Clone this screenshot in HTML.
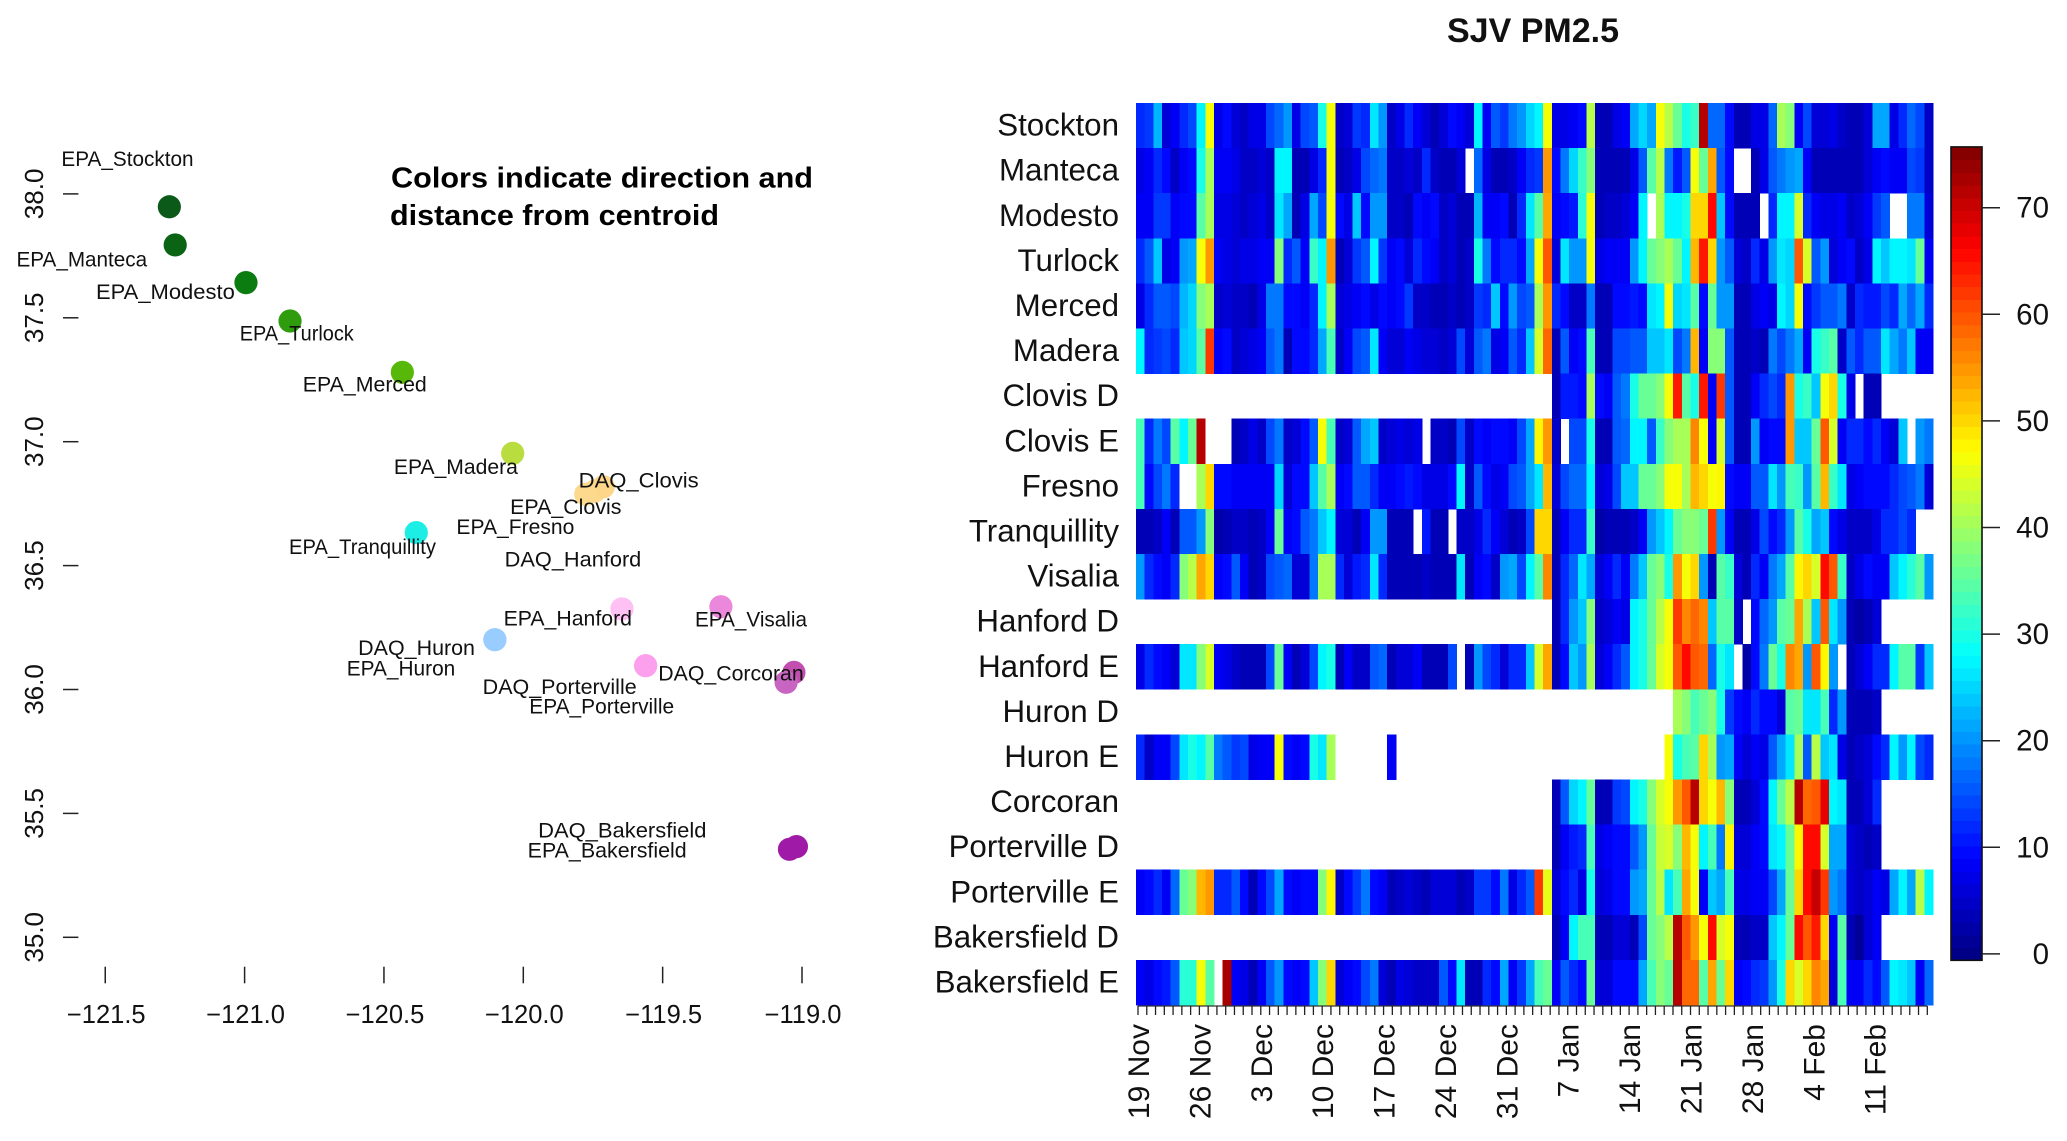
<!DOCTYPE html>
<html>
<head>
<meta charset="utf-8">
<title>SJV PM2.5</title>
<style>
html,body{margin:0;padding:0;background:#fff;}
svg{display:block;font-family:"Liberation Sans",Arial,sans-serif;fill:#111;}
.site{font-size:21px;}
.note{font-size:29px;font-weight:bold;fill:#000;}
</style>
</head>
<body>
<svg id="chart" xmlns="http://www.w3.org/2000/svg" width="2067" height="1141" viewBox="0 0 2067 1141">
<rect x="0" y="0" width="2067" height="1141" fill="#fff"/>
<g id="map-axes"></g>
<g id="map-dots"></g>
<g>
<text class="site" x="61.4" y="166" textLength="132.2" lengthAdjust="spacingAndGlyphs">EPA_Stockton</text>
<text class="site" x="16.5" y="266.7" textLength="130.6" lengthAdjust="spacingAndGlyphs">EPA_Manteca</text>
<text class="site" x="96" y="299" textLength="138.8" lengthAdjust="spacingAndGlyphs">EPA_Modesto</text>
<text class="site" x="239.7" y="340.7" textLength="114.1" lengthAdjust="spacingAndGlyphs">EPA_Turlock</text>
<text class="site" x="302.8" y="391.7" textLength="124" lengthAdjust="spacingAndGlyphs">EPA_Merced</text>
<text class="site" x="393.9" y="474" textLength="124" lengthAdjust="spacingAndGlyphs">EPA_Madera</text>
<text class="site" x="578.7" y="487.7" textLength="120" lengthAdjust="spacingAndGlyphs">DAQ_Clovis</text>
<text class="site" x="510.1" y="514" textLength="111.4" lengthAdjust="spacingAndGlyphs">EPA_Clovis</text>
<text class="site" x="456.4" y="534" textLength="118" lengthAdjust="spacingAndGlyphs">EPA_Fresno</text>
<text class="site" x="289" y="554" textLength="147" lengthAdjust="spacingAndGlyphs">EPA_Tranquillity</text>
<text class="site" x="504.7" y="566.7" textLength="136.6" lengthAdjust="spacingAndGlyphs">DAQ_Hanford</text>
<text class="site" x="503.6" y="625.3" textLength="128.4" lengthAdjust="spacingAndGlyphs">EPA_Hanford</text>
<text class="site" x="695" y="626.7" textLength="112" lengthAdjust="spacingAndGlyphs">EPA_Visalia</text>
<text class="site" x="358.2" y="655" textLength="116.8" lengthAdjust="spacingAndGlyphs">DAQ_Huron</text>
<text class="site" x="346.7" y="675.7" textLength="108.6" lengthAdjust="spacingAndGlyphs">EPA_Huron</text>
<text class="site" x="658.3" y="680.7" textLength="145.4" lengthAdjust="spacingAndGlyphs">DAQ_Corcoran</text>
<text class="site" x="482.7" y="694" textLength="154" lengthAdjust="spacingAndGlyphs">DAQ_Porterville</text>
<text class="site" x="529.3" y="713.3" textLength="144.8" lengthAdjust="spacingAndGlyphs">EPA_Porterville</text>
<text class="site" x="538.1" y="837.7" textLength="168.4" lengthAdjust="spacingAndGlyphs">DAQ_Bakersfield</text>
<text class="site" x="527.7" y="857.7" textLength="159" lengthAdjust="spacingAndGlyphs">EPA_Bakersfield</text>
</g>
<text class="note" x="391" y="187.3" textLength="422" lengthAdjust="spacingAndGlyphs">Colors indicate direction and</text>
<text class="note" x="390" y="225" textLength="329" lengthAdjust="spacingAndGlyphs">distance from centroid</text>
<text x="1533" y="42" text-anchor="middle" font-size="34" font-weight="bold" fill="#111">SJV PM2.5</text>
<g id="heat-cells" shape-rendering="crispEdges"></g>
<g id="heat-rows"></g>
<g id="heat-axis"></g>
<g id="colorbar"></g>
</svg>
<script>
// ---- Map data ----
const siteNames = ["EPA_Stockton","EPA_Manteca","EPA_Modesto","EPA_Turlock","EPA_Merced","EPA_Madera","EPA_Fresno","DAQ_Clovis","EPA_Clovis","EPA_Tranquillity","DAQ_Hanford","EPA_Hanford","EPA_Visalia","DAQ_Huron","EPA_Huron","DAQ_Porterville","EPA_Porterville","DAQ_Corcoran","EPA_Corcoran","DAQ_Bakersfield","EPA_Bakersfield"];
const siteLon = [-121.27,-121.249,-120.995,-120.837,-120.434,-120.038,-119.745,-119.713,-119.776,-120.384,-119.646,-119.646,-119.291,-120.102,-120.102,-119.561,-119.561,-119.029,-119.057,-119.02,-119.045];
const siteLat = [37.948,37.794,37.642,37.487,37.28,36.953,36.8,36.818,36.788,36.633,36.325,36.325,36.334,36.201,36.201,36.096,36.096,36.069,36.029,35.366,35.355];
const lonTicks = [-121.5,-121,-120.5,-120,-119.5,-119];
const latTicks = [35,35.5,36,36.5,37,37.5,38];
// ---- Heatmap data ----
const rowNames = ["Stockton","Manteca","Modesto","Turlock","Merced","Madera","Clovis D","Clovis E","Fresno","Tranquillity","Visalia","Hanford D","Hanford E","Huron D","Huron E","Corcoran","Porterville D","Porterville E","Bakersfield D","Bakersfield E"];
function missing(n){ return new Array(n).fill(null); }
const stockton = [12,13,23,6,8,12,14,27,47,7,10,6,5,7,7,14,17,20,7,14,15,30,46,5,6,13,12,26,20,5,7,12,8,6,4,6,9,8,6,27,8,15,13,18,20,25,27,46,7,7,8,9,42,4,4,7,8,22,25,22,46,42,36,30,32,72,17,17,9,3,4,7,7,17,41,38,8,14,6,6,7,5,4,4,6,21,22,7,12,17,14,5];
const manteca = [7,8,12,9,5,8,10,30,41,8,8,7,5,5,6,5,27,27,4,4,7,12,46,3,5,7,14,17,18,5,5,6,5,12,5,3,3,6,null,17,7,3,3,5,8,12,13,55,9,18,25,32,38,3,3,3,3,7,15,34,42,18,11,15,46,36,54,16,10,null,null,3,7,16,18,20,22,8,3,3,3,4,4,3,6,8,10,8,8,14,13,5];
const modesto = [8,8,13,13,8,9,9,34,40,7,7,6,5,6,7,5,26,22,3,7,22,14,46,10,7,24,10,20,20,5,5,4,10,8,9,5,6,4,4,23,8,8,10,4,12,26,34,54,8,10,11,31,46,4,5,5,6,8,27,null,41,27,27,30,50,50,65,24,10,4,4,3,null,12,27,27,44,12,8,7,7,8,5,6,8,13,16,null,null,18,18,6];
const turlock = [12,15,24,7,8,20,21,46,55,8,7,6,7,7,8,8,38,12,15,8,32,28,55,3,6,13,15,27,13,8,10,6,12,10,8,5,6,4,5,30,18,9,12,12,10,22,46,60,6,26,20,20,46,7,8,8,8,20,27,36,38,40,36,27,52,64,50,20,15,6,5,12,7,20,26,25,60,44,16,20,6,8,9,5,7,27,24,27,27,26,36,8];
const merced = [7,12,15,15,14,23,25,38,41,5,6,5,5,3,7,18,18,10,9,8,12,27,40,6,7,8,10,7,9,8,10,13,5,5,3,4,5,4,5,13,12,24,10,20,14,16,40,55,12,9,5,5,18,4,4,9,10,11,9,26,27,46,25,26,34,9,36,20,20,4,3,7,8,7,27,25,46,10,13,15,15,18,5,12,11,11,14,12,22,17,22,12];
const madera = [27,12,13,14,12,24,25,34,62,8,10,5,6,7,8,16,18,4,9,9,12,22,33,5,8,14,15,26,8,6,6,8,7,6,6,5,6,14,6,15,18,7,8,16,12,24,44,58,4,16,8,10,33,3,3,14,14,15,16,24,24,26,14,18,52,8,38,38,15,3,3,5,3,18,14,18,22,8,30,32,34,5,16,12,15,16,26,22,18,24,8,8];
const clovisD = [...missing(48),3,11,11,9,41,9,8,16,18,30,36,36,38,46,64,34,30,64,8,62,16,4,3,8,12,14,12,55,30,32,24,46,50,30,7,null,3,3,...missing(6)];
const clovisE = [33,12,18,14,34,27,36,71,null,null,null,4,5,7,5,14,18,5,6,9,15,46,33,5,6,15,22,24,5,6,7,6,7,null,5,5,3,14,5,9,8,10,9,8,14,22,48,55,5,null,14,14,30,3,3,15,17,27,27,15,32,38,40,40,56,46,8,44,16,4,3,20,8,9,9,55,24,24,36,60,44,8,12,12,10,12,8,6,24,null,20,18];
const fresno = [33,9,14,18,12,null,null,41,50,10,10,8,8,8,8,8,25,6,9,9,24,34,40,8,10,15,16,12,8,8,9,11,9,7,7,7,9,27,5,16,9,7,8,14,16,22,26,52,6,14,17,17,28,6,7,14,24,24,36,36,38,46,46,40,52,50,46,48,10,8,8,16,16,26,20,33,32,20,34,52,32,26,7,8,10,9,10,12,14,15,18,6];
const tranquillity = [3,3,5,8,3,15,15,20,38,2,4,5,5,4,5,8,36,8,9,16,18,24,27,6,6,4,8,20,20,3,3,4,null,11,4,3,null,5,5,7,12,8,6,3,5,14,50,50,3,8,12,12,32,2,3,3,3,5,8,20,24,28,36,38,38,36,62,20,8,4,3,7,14,10,12,20,34,30,22,24,10,7,5,5,5,7,12,12,14,12,null,null];
const visalia = [20,12,10,8,12,38,42,54,50,8,9,15,8,3,5,14,16,17,6,6,18,41,41,12,6,11,12,26,12,4,3,3,4,5,3,3,3,26,3,8,9,5,20,22,14,28,34,56,4,12,17,26,22,6,8,12,8,18,24,36,38,30,55,46,50,20,4,34,32,6,4,12,8,18,22,34,48,50,44,66,60,32,5,7,9,8,8,24,27,31,34,20];
const hanfordD = [...missing(48),3,12,20,24,38,5,6,8,7,27,30,36,42,46,62,56,58,56,24,34,34,5,null,9,17,20,34,36,54,40,24,60,26,20,3,2,4,6,...missing(6)];
const hanfordE = [7,12,10,8,6,26,26,38,44,8,7,5,4,4,4,14,36,8,4,6,14,27,30,4,8,5,5,15,17,3,6,6,8,4,3,3,14,null,3,20,14,12,6,12,12,24,44,54,3,10,24,20,41,6,8,12,16,27,30,36,44,46,60,66,60,58,17,30,26,null,2,10,18,36,30,56,54,20,60,48,20,null,3,6,8,12,12,28,34,34,13,24];
const huronD = [...missing(62),41,38,33,36,38,30,13,9,8,12,10,9,6,34,36,26,26,33,12,20,3,3,4,5,...missing(6)];
const huronE = [12,5,8,8,14,26,30,27,34,18,15,13,14,7,8,8,46,10,8,9,30,26,40,...missing(6),8,...missing(31),46,30,33,34,50,41,20,22,8,6,8,7,15,22,26,41,15,42,24,26,7,3,5,6,10,12,27,20,27,14,12];
const corcoran = [...missing(48),3,16,25,28,36,3,3,13,14,27,30,38,44,46,55,60,71,50,46,52,38,4,4,6,10,27,36,42,72,58,60,68,27,26,3,3,6,12,...missing(6)];
const portervilleD = [...missing(48),3,8,11,12,33,7,8,9,9,16,20,36,43,44,38,53,46,27,33,18,48,6,6,8,9,26,27,36,48,65,65,44,22,22,6,5,4,5,...missing(6)];
const portervilleE = [8,10,12,8,17,36,38,52,55,12,12,15,9,4,9,14,21,9,8,10,9,38,48,5,10,13,18,10,8,4,5,6,5,4,6,6,6,3,5,13,13,9,18,7,12,15,62,45,6,10,12,7,30,6,7,10,9,20,22,36,42,26,33,54,46,8,24,22,33,7,7,8,8,14,22,36,50,66,70,62,20,18,6,5,6,8,7,22,28,22,42,28];
const bakersfieldD = [...missing(48),3,8,27,33,33,3,4,6,6,4,14,36,38,42,71,60,55,46,65,44,46,4,4,5,5,24,27,36,66,60,64,50,8,35,3,1,6,8,...missing(6)];
const bakersfieldE = [8,7,10,11,16,31,31,46,34,null,73,8,7,4,8,15,20,9,8,9,24,38,50,6,8,10,14,18,6,4,7,6,5,5,5,16,10,26,3,4,12,10,22,8,13,22,33,36,8,15,12,10,36,6,6,10,9,9,22,33,38,36,72,58,58,34,54,36,50,8,10,12,13,20,30,50,44,50,56,54,6,33,8,8,12,9,16,28,26,24,8,17];
const heatRows = [stockton,manteca,modesto,turlock,merced,madera,clovisD,clovisE,fresno,tranquillity,visalia,hanfordD,hanfordE,huronD,huronE,corcoran,portervilleD,portervilleE,bakersfieldD,bakersfieldE];
const dateLabels = ["19 Nov","26 Nov","3 Dec","10 Dec","17 Dec","24 Dec","31 Dec","7 Jan","14 Jan","21 Jan","28 Jan","4 Feb","11 Feb"];
const dayTickCount = 91;
const colorbarTicks = [0,10,20,30,40,50,60,70];
const colorMin = -0.6, colorMax = 75.7;

// ---- Styling (not data) ----
const dotFill = {"EPA_Stockton":"#0b5a1a","EPA_Manteca":"#0a6414","EPA_Modesto":"#0b7c10","EPA_Turlock":"#2f9c0e","EPA_Merced":"#58b80a","EPA_Madera":"#b9dc3e","EPA_Fresno":"#fdd98e","DAQ_Clovis":"#fdd68a","EPA_Clovis":"#fdd98e","EPA_Tranquillity":"#1ceee6","DAQ_Hanford":"#ffc0f4","EPA_Hanford":"#ffc0f4","EPA_Visalia":"#ec88dc","DAQ_Huron":"#99ccff","EPA_Huron":"#99ccff","DAQ_Porterville":"#fca0ee","EPA_Porterville":"#fca0ee","DAQ_Corcoran":"#c24fb0","EPA_Corcoran":"#c865c2","DAQ_Bakersfield":"#a01aa8","EPA_Bakersfield":"#a01aa8"};

const NS = "http://www.w3.org/2000/svg";
function make(parent, tag, attrs, txt){
  const el = document.createElementNS(NS, tag);
  for (const k in attrs) el.setAttribute(k, attrs[k]);
  if (txt !== undefined) el.textContent = txt;
  parent.appendChild(el);
  return el;
}
function kebab(s){ return s.toLowerCase().replace(/[^a-z0-9]+/g,'-'); }

// ---- Scales ----
const xLon = lon => 802 + (lon + 119) * 278.7;
const yLat = lat => 937.3 - (lat - 35) * 247.8;
const heatLeft = 1136, heatRight = 1933, heatTop = 103, heatBottom = 1005;
const colCount = stockton.length;
const xCol = i => heatLeft + (heatRight - heatLeft) * i / colCount;
const yRow = i => heatTop + (heatBottom - heatTop) * i / rowNames.length;
const xDay = d => 1138 + d * 8.77;
const yColor = v => 953.9 - v * 10.66;

function jet(v){
  const levels = 64;
  let t = (v - colorMin) / (colorMax - colorMin);
  let k = Math.max(0, Math.min(levels - 1, Math.floor(t * levels)));
  t = (k + 0.5) / levels;
  const c = x => Math.round(255 * Math.max(0, Math.min(1, 1.5 - Math.abs(4 * t - x))));
  return "rgb(" + c(3) + "," + c(2) + "," + c(1) + ")";
}

// ---- Map axes ----
const mapAxes = document.getElementById("map-axes");
lonTicks.forEach(function(lon){
  const tick = make(mapAxes, "line", {x1:xLon(lon), x2:xLon(lon), y1:966.7, y2:983.3, stroke:"#222", "stroke-width":1.5});
  
  
  const lab = make(mapAxes, "text", {x:xLon(lon)+1, y:1023, "text-anchor":"middle", "font-size":25.5}, "\u2212" + Math.abs(lon).toFixed(1));
  
  
});
latTicks.forEach(function(lat){
  const tick = make(mapAxes, "line", {x1:63, x2:78.4, y1:yLat(lat), y2:yLat(lat), stroke:"#222", "stroke-width":1.5});
  
  
  const lab = make(mapAxes, "text", {transform:"translate(42.8 " + yLat(lat) + ") rotate(-90)", "text-anchor":"middle", "font-size":26}, lat.toFixed(1));
  
  
});

// ---- Map dots ----
const dotLayer = document.getElementById("map-dots");
siteNames.forEach(function(name, i){
  const dot = make(dotLayer, "circle", {cx:xLon(siteLon[i]), cy:yLat(siteLat[i]), r:11.6, fill:dotFill[name]});
  
  
});

// ---- Heatmap ----
const cellLayer = document.getElementById("heat-cells");
heatRows.forEach(function(row, r){
  row.forEach(function(v, c){
    if (v === null) return;
    const cell = make(cellLayer, "rect", {x:xCol(c), y:yRow(r), width:xCol(c+1)-xCol(c)+0.4, height:yRow(r+1)-yRow(r)+0.4, fill:jet(v)});
    
    
  });
});
const rowLayer = document.getElementById("heat-rows");
rowNames.forEach(function(name, r){
  const lab = make(rowLayer, "text", {x:1119, y:(yRow(r)+yRow(r+1))/2 + 10, "text-anchor":"end", "font-size":31.3}, name);
  
  
});

// ---- Date axis ----
const axisLayer = document.getElementById("heat-axis");
const axisLine = make(axisLayer, "line", {x1:xDay(0), x2:xDay(dayTickCount-1), y1:1006, y2:1006, stroke:"#333", "stroke-width":1.2});


for (let d = 0; d < dayTickCount; d++){
  const tick = make(axisLayer, "line", {x1:xDay(d), x2:xDay(d), y1:1006, y2:1015, stroke:"#222", "stroke-width":1.3});
  
  
}
dateLabels.forEach(function(txt, i){
  const x = xDay(i * 7);
  const lab = make(axisLayer, "text", {transform:"translate(" + (x + 11) + " 1024) rotate(-90)", "text-anchor":"end", "font-size":30}, txt);
  
  
});

// ---- Colorbar ----
const barLayer = document.getElementById("colorbar");
const barLeft = 1951, barRight = 1982;
const stepCount = 64;
for (let s = 0; s < stepCount; s++){
  const lo = colorMin + (colorMax - colorMin) * s / stepCount;
  const hi = colorMin + (colorMax - colorMin) * (s + 1) / stepCount;
  const step = make(barLayer, "rect", {x:barLeft, y:yColor(hi), width:barRight-barLeft, height:yColor(lo)-yColor(hi)+0.5, fill:jet((lo+hi)/2), "shape-rendering":"crispEdges"});
  
  
}
const barFrame = make(barLayer, "rect", {x:barLeft, y:yColor(colorMax), width:barRight-barLeft, height:yColor(colorMin)-yColor(colorMax), fill:"none", stroke:"#111", "stroke-width":1.6});


colorbarTicks.forEach(function(v){
  const tick = make(barLayer, "line", {x1:barRight, x2:2000, y1:yColor(v), y2:yColor(v), stroke:"#222", "stroke-width":1.5});
  
  
  const lab = make(barLayer, "text", {x:2049, y:yColor(v) + 10, "text-anchor":"end", "font-size":29.5}, String(v));
  
  
});
</script>
</body>
</html>
